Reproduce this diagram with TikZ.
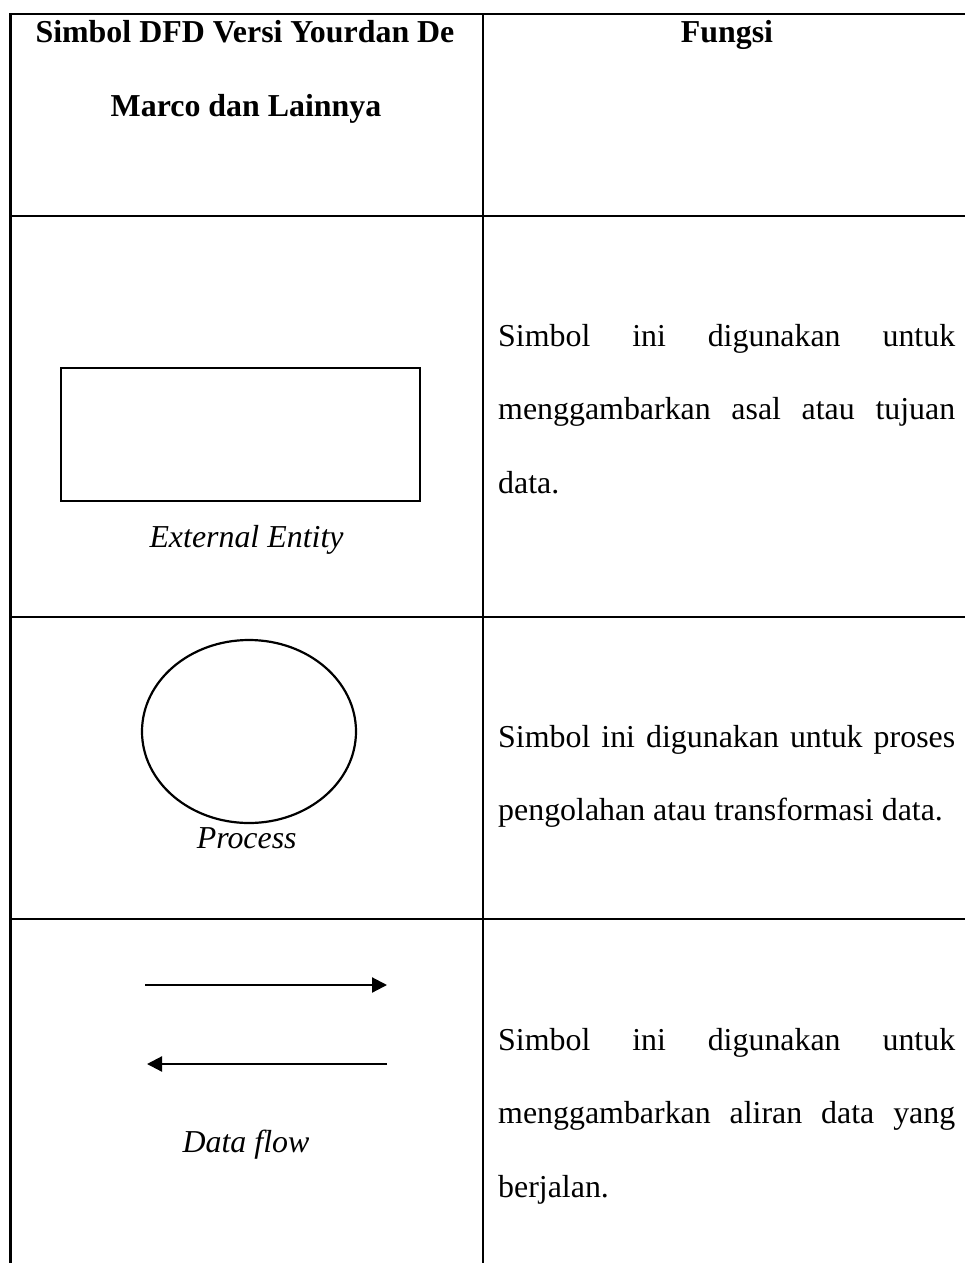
\documentclass[tikz,border=0pt]{standalone}
\usepackage{fontspec}
\setmainfont{Liberation Serif}
\usetikzlibrary{arrows.meta}
\begin{document}
\begin{tikzpicture}[x=1pt,y=-1pt,
  tbl/.style={line width=2.2pt,line cap=rect},
  shp/.style={line width=2.2pt},
  flow/.style={line width=2.2pt,-{Triangle[length=15pt,width=15pt]}},
  txt/.style={inner sep=0pt,font=\fontsize{31.9}{38}\selectfont},
  hd/.style={txt,font=\fontsize{31.9}{38}\selectfont\bfseries,anchor=base},
  lbl/.style={txt,font=\fontsize{31.9}{38}\selectfont\itshape,anchor=base},
  body/.style={txt,anchor=base west}]
\useasboundingbox (0,0) rectangle (964,1263);
% table grid
\draw[tbl] (10.5,14) -- (964,14);
\draw[tbl] (10.5,216) -- (964,216);
\draw[tbl] (10.5,617) -- (964,617);
\draw[tbl] (10.5,919) -- (964,919);
\draw[tbl] (10.5,14) -- (10.5,1263);
\draw[tbl] (483,14) -- (483,1263);
% header
\node[hd] (h1) at (245,43) {Simbol DFD Versi Yourdan De};
\node[hd] (h2) at (246,116) {Marco dan Lainnya};
\node[hd] (h3) at (727,43) {Fungsi};
% row 2
\node[draw,shp,minimum width=359pt,minimum height=133pt,inner sep=0pt] (ent) at (240.5,434.5) {};
\node[lbl] (entl) at (246.5,547) {External Entity};
\node[body] (r2a) at (498,346) {\makebox[457pt][s]{Simbol ini digunakan untuk}};
\node[body] (r2b) at (498,419) {\makebox[457pt][s]{menggambarkan asal atau tujuan}};
\node[body] (r2c) at (498,493) {data.};
% row 3
\draw[shp] (249,731.5) ellipse [x radius=107pt, y radius=91.5pt];
\node[lbl] (procl) at (246.7,848) {Process};
\node[body] (r3a) at (498,747) {\makebox[457pt][s]{Simbol ini digunakan untuk proses}};
\node[body] (r3b) at (498,820) {pengolahan atau transformasi data.};
% row 4
\coordinate (f1a) at (145,985);
\coordinate (f1b) at (387,985);
\coordinate (f2a) at (387,1064);
\coordinate (f2b) at (147,1064);
\draw[flow] (f1a) -- (f1b);
\draw[flow] (f2a) -- (f2b);
\node[lbl] (flowl) at (246,1152) {Data flow};
\node[body] (r4a) at (498,1050) {\makebox[457pt][s]{Simbol ini digunakan untuk}};
\node[body] (r4b) at (498,1123) {\makebox[457pt][s]{menggambarkan aliran data yang}};
\node[body] (r4c) at (498,1197) {berjalan.};
\end{tikzpicture}
\end{document}
